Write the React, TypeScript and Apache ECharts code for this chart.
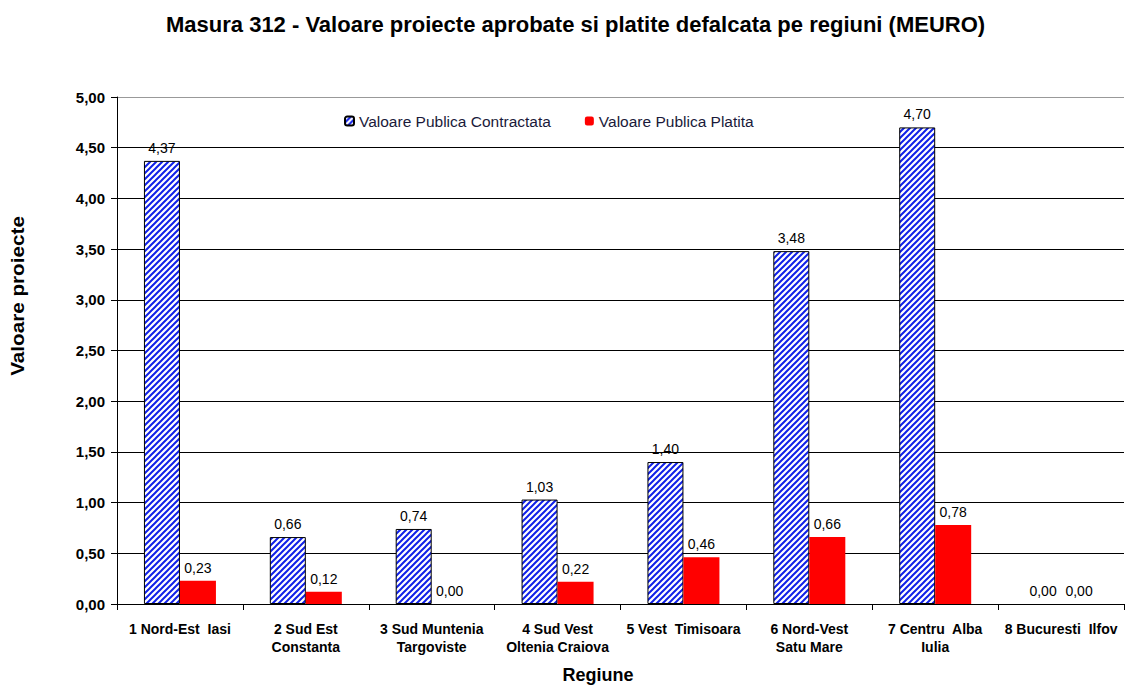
import React, { useEffect, useRef } from "react";
import * as echarts from "echarts";

const categories = [
  "1 Nord-Est  Iasi",
  "2 Sud Est\nConstanta",
  "3 Sud Muntenia\nTargoviste",
  "4 Sud Vest\nOltenia Craiova",
  "5 Vest  Timisoara",
  "6 Nord-Vest\nSatu Mare",
  "7 Centru  Alba\nIulia",
  "8 Bucuresti  Ilfov",
];
const contractata = [4.37, 0.66, 0.74, 1.03, 1.4, 3.48, 4.7, 0.0];
const platita = [0.23, 0.12, 0.0, 0.22, 0.46, 0.66, 0.78, 0.0];
const seriesNames = ["Valoare Publica Contractata", "Valoare Publica Platita"];
const titleText = "Masura 312 - Valoare proiecte aprobate si platite defalcata pe regiuni (MEURO)";
const yAxisTitle = "Valoare proiecte";
const xAxisTitle = "Regiune";

const FONT = "'Liberation Sans', Arial, sans-serif";
const fmt = (v: number) => v.toFixed(2).replace(".", ",");

function makeHatch(): HTMLCanvasElement {
  const c = document.createElement("canvas");
  c.width = 6;
  c.height = 6;
  const ctx = c.getContext("2d")!;
  ctx.fillStyle = "#ffffff";
  ctx.fillRect(0, 0, 6, 6);
  ctx.strokeStyle = "#1020e8";
  ctx.lineWidth = 2;
  ctx.beginPath();
  ctx.moveTo(-1, 7);
  ctx.lineTo(7, -1);
  ctx.moveTo(-1, 1);
  ctx.lineTo(1, -1);
  ctx.moveTo(5, 7);
  ctx.lineTo(7, 5);
  ctx.stroke();
  return c;
}

export default function App() {
  const ref = useRef<HTMLDivElement>(null);
  useEffect(() => {
    if (!ref.current) return;
    const chart = echarts.init(ref.current, undefined, { renderer: "svg" });
    const hatch = { image: makeHatch(), repeat: "repeat" } as any;
    const gridColors = ["#000", "#000", "#000", "#000", "#000", "#000", "#000", "#000", "#000", "#000", "#999"];
    const labelCfg = {
      show: true,
      position: "top",
      distance: 6,
      formatter: (p: any) => fmt(p.value),
      fontFamily: FONT,
      fontSize: 14,
      color: "#000",
    };
    chart.setOption({
      animation: false,
      backgroundColor: "#ffffff",
      textStyle: { fontFamily: FONT },
      title: {
        text: titleText,
        left: 161,
        top: 8,
        textStyle: { fontFamily: FONT, fontSize: 22, fontWeight: "bold", color: "#000" },
      },
      legend: {
        left: 339,
        top: 108,
        itemWidth: 9,
        itemHeight: 9,
        itemGap: 34,
        textStyle: { fontFamily: FONT, fontSize: 15.5, color: "#1a1a3a" },
        data: seriesNames,
      },
      grid: { left: 117, top: 97, right: 4, bottom: 83, containLabel: false },
      xAxis: {
        type: "category",
        data: categories,
        axisLine: { lineStyle: { color: "#000", width: 1 } },
        axisTick: { show: true, length: 6, lineStyle: { color: "#000" } },
        axisLabel: {
          interval: 0,
          margin: 16,
          fontFamily: FONT,
          fontSize: 14,
          fontWeight: "bold",
          color: "#000",
          lineHeight: 18,
        },
      },
      yAxis: {
        type: "value",
        min: 0,
        max: 5,
        interval: 0.5,
        axisLine: { show: true, lineStyle: { color: "#000" } },
        axisTick: { show: true, length: 6, lineStyle: { color: "#000" } },
        splitLine: { lineStyle: { color: gridColors, width: 1 } },
        axisLabel: {
          formatter: (v: number) => fmt(v),
          fontFamily: FONT,
          fontSize: 15,
          fontWeight: "bold",
          color: "#000",
          margin: 12,
        },
      },
      graphic: [
        {
          type: "text",
          x: 18,
          y: 296,
          rotation: Math.PI / 2,
          scaleX: 1.15,
          style: {
            text: yAxisTitle,
            fontFamily: FONT,
            fontSize: 18,
            fontWeight: "bold",
            fill: "#000",
            align: "center",
            verticalAlign: "middle",
          },
        },
        {
          type: "text",
          x: 598,
          y: 675,
          style: {
            text: xAxisTitle,
            fontFamily: FONT,
            fontSize: 18,
            fontWeight: "bold",
            fill: "#000",
            align: "center",
            verticalAlign: "middle",
          },
        },
      ],
      series: [
        {
          name: seriesNames[0],
          type: "bar",
          data: contractata.map((v) =>
            v === 0 ? { value: v, itemStyle: { borderWidth: 0, borderColor: "transparent" } } : v
          ),
          barWidth: 36,
          barGap: "0%",
          itemStyle: { color: hatch, borderColor: "#000", borderWidth: 1 },
          label: labelCfg,
        },
        {
          name: seriesNames[1],
          type: "bar",
          data: platita,
          barWidth: 36,
          barGap: "0%",
          itemStyle: { color: "#ff0000" },
          label: labelCfg,
        },
      ],
    });
    return () => chart.dispose();
  }, []);
  return (
    <div
      ref={ref}
      style={{ position: "fixed", left: 0, top: 0, width: 1128, height: 687 }}
    />
  );
}
